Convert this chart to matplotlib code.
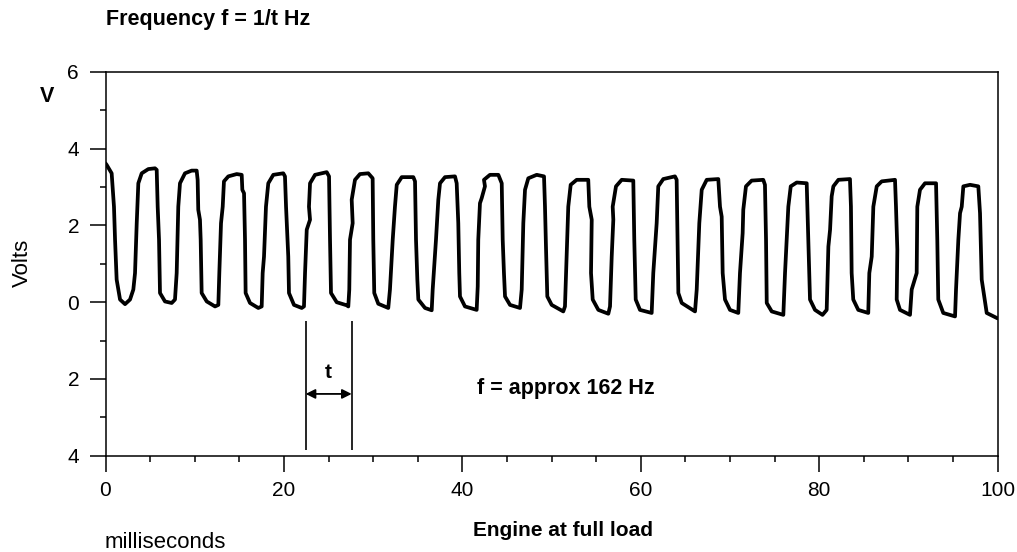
import matplotlib
matplotlib.use("Agg")
import matplotlib.pyplot as plt
from matplotlib.ticker import MultipleLocator, FuncFormatter

plt.rcParams['font.family'] = ['Liberation Sans', 'DejaVu Sans']

# Trace of the oscilloscope waveform (ms, volts)
time_ms = [
    0.0, 0.13, 0.69, 0.95, 1.07, 1.25, 1.63, 2.19, 2.75, 3.12, 3.31, 3.50, 3.68, 4.06, 4.80, 5.55,
    5.74, 5.85, 6.00, 6.11, 6.67, 7.42, 7.79, 7.98, 8.16, 8.35, 8.91, 9.66, 10.22,
    10.33, 10.40, 10.59, 10.67, 10.78, 11.35, 12.28, 12.65, 12.76, 12.95, 13.14, 13.28, 13.77, 14.71, 15.27,
    15.34, 15.53, 15.56, 15.64, 15.71, 16.20, 17.13, 17.51, 17.62, 17.77, 17.99, 18.25, 18.81, 19.93,
    20.12, 20.24, 20.49, 20.57, 21.13, 22.00, 22.25, 22.37, 22.56, 22.93, 22.81, 22.93, 23.49, 24.80,
    25.06, 25.17, 25.28, 25.92, 27.04, 27.22, 27.33, 27.41, 27.71, 27.60, 27.97, 28.53, 29.46,
    29.95, 30.02, 30.13, 30.58, 31.70, 31.89, 32.20, 32.45, 32.65, 33.21, 34.51,
    34.70, 34.81, 34.96, 35.07, 35.82, 36.57, 36.68, 37.05, 37.31, 37.50, 38.06, 39.18,
    39.37, 39.55, 39.66, 39.74, 40.30, 41.61, 41.73, 41.79, 41.98, 42.17, 42.54, 42.43, 43.10, 44.04,
    44.42, 44.53, 44.67, 44.79, 45.35, 46.47, 46.66, 46.84, 47.03, 47.40, 48.34, 49.16,
    49.27, 49.38, 49.53, 50.02, 51.32, 51.51, 51.70, 51.88, 52.15, 52.82, 54.12,
    54.24, 54.51, 54.43, 54.62, 55.25, 56.37, 56.56, 56.75, 56.93, 56.86, 57.23, 57.87, 59.17,
    59.28, 59.44, 59.92, 61.23, 61.41, 61.79, 61.97, 62.53, 63.84,
    64.03, 64.22, 64.60, 66.09, 66.28, 66.57, 66.84, 67.40, 68.70,
    68.89, 69.08, 69.19, 69.45, 70.01, 70.94, 71.13, 71.43, 71.50, 71.80, 72.44, 73.74,
    73.93, 74.05, 74.13, 74.69, 75.99, 76.18, 76.55, 76.82, 77.49, 78.61,
    78.79, 78.98, 79.54, 80.38, 80.85, 81.04, 81.23, 81.41, 81.60, 82.16, 83.46,
    83.57, 83.65, 83.83, 84.39, 85.51, 85.63, 85.90, 86.08, 86.46, 87.02, 88.51,
    88.62, 88.77, 88.70, 89.07, 90.19, 90.38, 90.94, 91.01, 91.31, 91.87, 93.11,
    93.25, 93.36, 93.92, 95.24, 95.35, 95.61, 95.80, 95.99, 96.17, 96.92, 97.85,
    98.04, 98.23, 98.79, 99.91, 100.0,
]
volts = [
    3.62, 3.58, 3.36, 2.49, 1.63, 0.59, 0.07, -0.05, 0.07, 0.33, 0.76, 2.06, 3.10, 3.36, 3.47, 3.49,
    3.45, 2.49, 1.63, 0.24, 0.02, -0.02, 0.07, 0.76, 2.49, 3.10, 3.36, 3.43, 3.43,
    3.19, 2.41, 2.15, 1.63, 0.24, 0.02, -0.11, -0.07, 0.76, 2.06, 2.49, 3.15, 3.28, 3.34, 3.32,
    2.93, 2.84, 2.49, 1.63, 0.24, -0.02, -0.15, -0.11, 0.76, 1.19, 2.49, 3.10, 3.32, 3.36,
    3.28, 2.49, 1.19, 0.24, -0.07, -0.15, -0.11, 0.76, 1.89, 2.15, 2.49, 3.10, 3.32, 3.39,
    3.28, 1.63, 0.24, 0.00, -0.08, -0.11, 0.33, 1.63, 2.06, 2.67, 3.19, 3.34, 3.36,
    3.23, 1.63, 0.24, -0.04, -0.15, 0.33, 1.63, 2.49, 3.06, 3.26, 3.26,
    3.15, 1.63, 0.59, 0.07, -0.15, -0.21, 0.33, 1.63, 2.67, 3.10, 3.26, 3.28,
    3.10, 2.06, 0.76, 0.15, -0.11, -0.20, 0.41, 1.63, 2.58, 2.71, 3.02, 3.19, 3.32, 3.32,
    3.10, 1.63, 0.76, 0.15, -0.07, -0.15, 0.33, 2.06, 2.93, 3.23, 3.32, 3.28,
    2.49, 1.45, 0.15, -0.07, -0.24, -0.11, 1.19, 2.49, 3.06, 3.19, 3.19,
    2.49, 2.15, 0.76, 0.07, -0.20, -0.30, -0.11, 1.19, 2.15, 2.49, 3.02, 3.19, 3.17,
    1.63, 0.07, -0.20, -0.28, 0.76, 2.06, 3.02, 3.21, 3.28,
    3.19, 0.24, -0.02, -0.24, 0.33, 2.06, 2.93, 3.19, 3.21,
    2.49, 2.23, 0.76, 0.07, -0.20, -0.28, 0.76, 1.80, 2.41, 3.02, 3.17, 3.19,
    3.06, 1.63, -0.02, -0.24, -0.33, 0.76, 2.49, 3.02, 3.12, 3.10,
    1.63, 0.07, -0.20, -0.33, -0.20, 1.45, 1.89, 2.76, 3.02, 3.19, 3.21,
    2.49, 0.76, 0.07, -0.20, -0.28, 0.76, 1.19, 2.49, 3.02, 3.15, 3.19,
    2.49, 1.37, 0.07, -0.20, -0.33, 0.33, 0.76, 2.49, 2.93, 3.10, 3.10,
    1.63, 0.07, -0.28, -0.37, 0.33, 1.63, 2.32, 2.49, 3.02, 3.06, 3.02,
    2.32, 0.59, -0.28, -0.41, -0.42,
]

x_ticks = [0, 20, 40, 60, 80, 100]
y_ticks = [-4, -2, 0, 2, 4, 6]
period_start_ms = 22.44
period_end_ms = 27.6

W, H = 1017, 552
fig = plt.figure(figsize=(W / 100, H / 100), dpi=100)
ax = fig.add_axes([105.5 / W, 1 - 455.7 / H, (997.5 - 105.5) / W, (455.7 - 72) / H])

ax.plot(time_ms, volts, color='black', lw=2.7, solid_joinstyle='round', solid_capstyle='round')

ax.set_xlim(0, 100)
ax.set_ylim(-4, 6)
ax.set_xticks(x_ticks)
ax.set_yticks(y_ticks)
ax.xaxis.set_minor_locator(MultipleLocator(5))
ax.yaxis.set_minor_locator(MultipleLocator(1))
ax.yaxis.set_major_formatter(FuncFormatter(lambda v, p: f"{abs(int(v))}"))
ax.tick_params(which='major', direction='out', length=11.5, width=1.1, labelsize=15, colors='black')
ax.tick_params(axis='x', which='major', pad=7)
ax.tick_params(axis='y', which='major', pad=7.5)
ax.tick_params(which='minor', direction='out', length=4.3, width=1.1)
ax.tick_params(top=False, right=False, which='both')
for s in ax.spines.values():
    s.set_linewidth(1.1)

# period markers
ax.vlines([period_start_ms, period_end_ms], -3.84, -0.5, color='black', lw=1.2)
ax.annotate('', xy=(period_start_ms, -2.39), xytext=(period_end_ms, -2.39),
            arrowprops=dict(arrowstyle='<|-|>', color='black', lw=1.3, mutation_scale=14,
                            shrinkA=0, shrinkB=0))
ax.text((period_start_ms + period_end_ms) / 2, -1.84, 't', ha='center', va='center',
        fontsize=15, fontweight='bold')
ax.text(41.7, -2.25, 'f = approx 162 Hz', ha='left', va='center', fontsize=15.5, fontweight='bold')

def ft(x, y, s, **kw):
    fig.text(x / W, 1 - y / H, s, **kw)

ft(106, 19, 'Frequency f = 1/t Hz', ha='left', va='center', fontsize=15.5, fontweight='bold')
ft(47, 97, 'V', ha='center', va='center', fontsize=15.5, fontweight='bold')
ft(22, 263, 'Volts', ha='center', va='center', fontsize=16, rotation=90)
ft(105, 543, 'milliseconds', ha='left', va='center', fontsize=16)
ft(563, 531, 'Engine at full load', ha='center', va='center', fontsize=15, fontweight='bold')

fig.savefig('out.png', dpi=100)
